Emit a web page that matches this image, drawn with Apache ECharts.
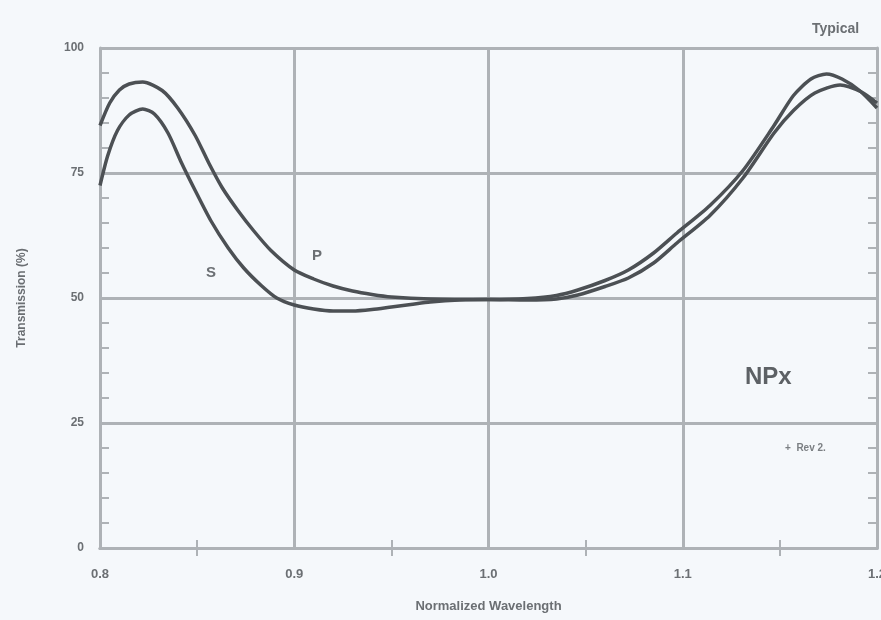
<!DOCTYPE html>
<html>
<head>
<meta charset="utf-8">
<script src="https://cdn.jsdelivr.net/npm/echarts@6/dist/echarts.min.js"></script>
<style>
html,body{margin:0;padding:0;background:#f5f8fb;}
#c{width:881px;height:620px;}
</style>
</head>
<body>
<div id="c"></div>
<script>
// Data
const wavelengthP = [0.800,0.805,0.810,0.815,0.822,0.832,0.840,0.849,0.856,0.863,0.871,0.879,0.888,0.900,0.910,0.920,0.930,0.940,0.950,0.970,1.000,1.020,1.035,1.046,1.060,1.072,1.085,1.097,1.114,1.131,1.147,1.157,1.166,1.174,1.182,1.191,1.200];
const transP     = [84.5,89.0,91.6,92.8,93.2,91.5,88.0,82.5,77.0,72.0,67.5,63.5,59.5,55.6,53.8,52.4,51.4,50.7,50.2,49.8,49.7,49.9,50.5,51.6,53.5,55.6,59.0,63.0,68.5,75.5,84.5,90.5,93.8,94.8,93.8,91.5,88.0];
const wavelengthS = [0.800,0.804,0.809,0.815,0.822,0.828,0.835,0.842,0.849,0.857,0.866,0.874,0.883,0.891,0.900,0.910,0.920,0.930,0.940,0.950,0.960,0.970,0.985,1.000,1.020,1.035,1.046,1.060,1.072,1.085,1.097,1.114,1.131,1.147,1.157,1.168,1.181,1.192,1.200];
const transS     = [72.5,78.5,83.5,86.6,87.8,86.8,83.0,77.0,71.5,65.5,60.0,56.0,52.5,50.0,48.6,47.8,47.4,47.4,47.7,48.2,48.7,49.2,49.6,49.7,49.6,49.8,50.6,52.3,54.0,57.0,61.0,66.5,74.0,83.0,87.5,91.0,92.6,91.2,89.0];
const xTicks = [0.8, 0.9, 1.0, 1.1, 1.2];
const yTicks = [0, 25, 50, 75, 100];

const pData = wavelengthP.map((x,i)=>[x, transP[i]]);
const sData = wavelengthS.map((x,i)=>[x, transS[i]]);

const gridCol = '#aeb2b6';
const txtCol = '#6b6f73';
const lineCol = '#4c5054';
const font = 'Liberation Sans';

const chart = echarts.init(document.getElementById('c'));
chart.setOption({
  backgroundColor: '#f5f8fb',
  animation: false,
  grid: {left: 100, right: 4, top: 48, bottom: 72, show: false, outerBoundsMode: 'none', containLabel: false},
  xAxis: [{
    type: 'value', min: 0.8, max: 1.2, interval: 0.1,
    axisLine: {show: true, lineStyle: {color: gridCol, width: 3}},
    axisTick: {show: false, inside: true},
    minorTick: {show: true, splitNumber: 2, length: 8, lineStyle: {color: gridCol, width: 2}},
    splitLine: {show: true, lineStyle: {color: gridCol, width: 3}},
    axisLabel: {color: txtCol, fontFamily: font, fontSize: 13, fontWeight: 'bold', margin: 20,
      formatter: v => xTicks.some(t => Math.abs(t - v) < 1e-6) ? v.toFixed(1) : ''},
    name: 'Normalized Wavelength', nameLocation: 'middle', nameGap: 52,
    nameTextStyle: {color: txtCol, fontFamily: font, fontSize: 13, fontWeight: 'bold'}
  },{
    type: 'value', min: 0.8, max: 1.2, interval: 0.1, position: 'top',
    axisLine: {show: true, lineStyle: {color: gridCol, width: 3}},
    axisTick: {show: false, inside: true},
    minorTick: {show: true, splitNumber: 2, length: 8, lineStyle: {color: gridCol, width: 2}},
    splitLine: {show: false}, axisLabel: {show: false}
  }],
  yAxis: [{
    type: 'value', min: 0, max: 100, interval: 25,
    axisLine: {show: true, lineStyle: {color: gridCol, width: 3}},
    axisTick: {show: false, inside: true},
    minorTick: {show: true, splitNumber: 5, length: 9, lineStyle: {color: gridCol, width: 2}},
    splitLine: {show: true, lineStyle: {color: gridCol, width: 3}},
    axisLabel: {color: txtCol, fontFamily: font, fontSize: 12, fontWeight: 'bold', margin: 16,
      formatter: v => yTicks.includes(v) ? String(v) : ''},
    name: 'Transmission (%)', nameLocation: 'middle', nameGap: 72,
    nameTextStyle: {color: txtCol, fontFamily: font, fontSize: 12, fontWeight: 'bold'}
  },{
    type: 'value', min: 0, max: 100, interval: 25, position: 'right',
    axisLine: {show: true, lineStyle: {color: gridCol, width: 3}},
    axisTick: {show: false, inside: true},
    minorTick: {show: true, splitNumber: 5, length: 9, lineStyle: {color: gridCol, width: 2}},
    splitLine: {show: false}, axisLabel: {show: false}
  }],
  series: [
    {name: 'P', type: 'line', data: pData, smooth: 0.25, showSymbol: false,
      lineStyle: {color: lineCol, width: 3.5}},
    {name: 'S', type: 'line', data: sData, smooth: 0.25, showSymbol: false,
      lineStyle: {color: lineCol, width: 3.5}}
  ],
  graphic: [
    {type: 'text', left: 812, top: 22, style: {text: 'Typical', fill: '#6b6f73', font: 'bold 14px Liberation Sans'}},
    {type: 'text', left: 206, top: 265, style: {text: 'S', fill: '#6b6f73', font: 'bold 15px Liberation Sans'}},
    {type: 'text', left: 312, top: 248, style: {text: 'P', fill: '#6b6f73', font: 'bold 15px Liberation Sans'}},
    {type: 'text', left: 745, top: 365, style: {text: 'NPx', fill: '#5d6165', font: 'bold 24px Liberation Sans'}},
    {type: 'text', left: 785, top: 443, style: {text: '+  Rev 2.', fill: '#7b7f83', font: 'bold 10px Liberation Sans'}}
  ]
});
</script>
</body>
</html>
